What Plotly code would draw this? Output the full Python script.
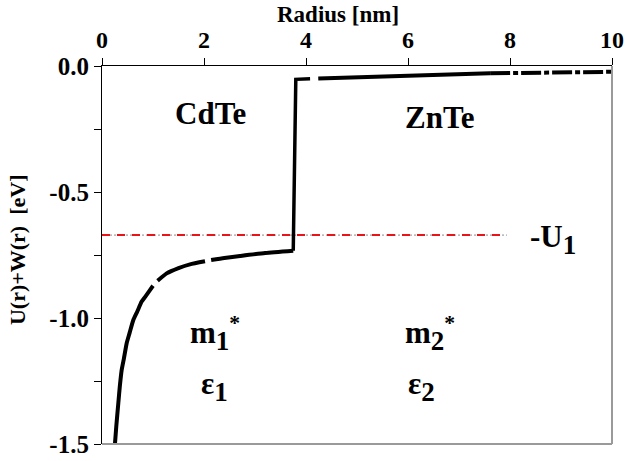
import plotly.graph_objects as go

# ---- data ----
# CdTe core curve (r in nm, energy in eV); None marks small gaps in the drawn curve
r_core = [0.255, 0.28, 0.32, 0.35, 0.386, 0.43, 0.484, 0.54, 0.614, 0.69, 0.778, 0.85, 0.94, 1.00, None,
          1.09, 1.268, 1.50, 1.725, 2.02, None,
          2.14, 2.40, 2.706, 3.20, 3.75]
u_core = [-1.497, -1.43, -1.338, -1.27, -1.206, -1.16, -1.100, -1.06, -1.008, -0.975, -0.935, -0.915, -0.889, -0.872, None,
          -0.852, -0.823, -0.802, -0.787, -0.775, None,
          -0.770, -0.762, -0.754, -0.742, -0.733]
# step at the interface
r_step = [3.75, 3.80, 4.08]
u_step = [-0.733, -0.053, -0.051]
# ZnTe shell curve
r_shell = [4.24, 5.00, 5.91, 6.80, 7.61]
u_shell = [-0.050, -0.045, -0.040, -0.034, -0.029]
# tail drawn dash-dot
r_tail = [7.61, 8.50, 9.20, 9.99]
u_tail = [-0.029, -0.026, -0.024, -0.023]
# -U1 level
r_u1 = [0.0, 7.94]
u_u1 = [-0.671, -0.671]

x_ticks = [0, 2, 4, 6, 8, 10]
y_ticks = [0.0, -0.5, -1.0, -1.5]
y_ticklabels = ["0.0", "-0.5", "-1.0", "-1.5"]

FONT = "Liberation Serif"

fig = go.Figure()
fig.add_trace(go.Scatter(x=r_u1, y=u_u1, mode="lines",
                         line=dict(color="#8a8a8a", width=1, dash="2px,2px"),
                         hoverinfo="skip", showlegend=False))
fig.add_trace(go.Scatter(x=r_u1, y=u_u1, mode="lines",
                         line=dict(color="#e8141a", width=2, dash="8px,7px"),
                         showlegend=False))
fig.add_trace(go.Scatter(x=r_core, y=u_core, mode="lines", connectgaps=False,
                         line=dict(color="black", width=4, shape="spline", smoothing=0.5),
                         showlegend=False))
fig.add_trace(go.Scatter(x=r_step, y=u_step, mode="lines",
                         line=dict(color="black", width=3.5), showlegend=False))
fig.add_trace(go.Scatter(x=r_shell, y=u_shell, mode="lines",
                         line=dict(color="black", width=4), showlegend=False))
fig.add_trace(go.Scatter(x=r_tail, y=u_tail, mode="lines",
                         line=dict(color="black", width=4, dash="20px,3px,5px,3px"),
                         showlegend=False))

tf = dict(family=FONT, size=25, color="black", weight="bold")
tfx = dict(family=FONT, size=24, color="black", weight="bold")
fig.update_layout(
    width=627, height=461,
    margin=dict(l=102, r=15, t=66, b=17),
    paper_bgcolor="white", plot_bgcolor="white",
    xaxis=dict(side="top", range=[0, 10], tickvals=x_ticks, ticktext=[str(v) for v in x_ticks],
               ticks="outside", ticklen=7, tickcolor="black", tickwidth=1, automargin=False,
               showline=True, linecolor="black", linewidth=1.2, showgrid=False, zeroline=False,
               tickfont=tfx),
    yaxis=dict(range=[-1.5, 0], tickvals=y_ticks, ticktext=y_ticklabels,
               ticks="outside", ticklen=7, tickcolor="black", tickwidth=1, automargin=False,
               minor=dict(dtick=0.25, tick0=0, ticks="outside", ticklen=7, tickcolor="black", showgrid=False),
               showline=True, linecolor="black", linewidth=1.2, showgrid=False, zeroline=False,
               tickfont=tf),
    font=dict(family=FONT, color="black"),
)

# right and bottom frame lines (gray)
fig.add_shape(type="line", xref="paper", yref="paper", x0=1, x1=1, y0=0, y1=1,
              line=dict(color="#9a9a9a", width=2))
fig.add_shape(type="line", xref="paper", yref="paper", x0=0, x1=1, y0=0, y1=0,
              line=dict(color="#9a9a9a", width=2))

big = dict(family=FONT, size=31, color="black", weight="bold")
S = '<span style="font-size:27px">{}</span>'
ann = [
    dict(x=0.463, y=1, yshift=52, xref="paper", yref="paper", yanchor="middle", text="Radius [nm]",
         font=dict(family=FONT, size=23, color="black", weight="bold")),
    dict(x=0, xshift=-85, y=0.513, xref="paper", yref="paper", xanchor="center", yanchor="middle",
         text="U(r)+W(r)&nbsp;&nbsp;[eV]", textangle=-90,
         font=dict(family=FONT, size=22, color="black", weight="bold")),
    dict(x=2.12, y=-0.19, text="CdTe", font=big),
    dict(x=6.63, y=-0.205, text="ZnTe", font=big),
    dict(x=8.35, y=-0.69, xanchor="left", text="-U<sub>" + S.format("1") + "</sub>", font=big),
    dict(x=1.69, y=-1.06, xanchor="left", text="m<sub>" + S.format("1") + "</sub><sup>*</sup>", font=big),
    dict(x=1.90, y=-1.27, xanchor="left", text="ε<sub>" + S.format("1") + "</sub>", font=big),
    dict(x=5.90, y=-1.06, xanchor="left", text="m<sub>" + S.format("2") + "</sub><sup>*</sup>", font=big),
    dict(x=5.96, y=-1.27, xanchor="left", text="ε<sub>" + S.format("2") + "</sub>", font=big),
]
for a in ann:
    a.setdefault("xref", "x")
    a.setdefault("yref", "y")
    a["showarrow"] = False
    fig.add_annotation(**a)

fig.write_html("out.html", config={"displayModeBar": False},
               post_script="document.body.style.margin='0';document.body.style.padding='0';")
